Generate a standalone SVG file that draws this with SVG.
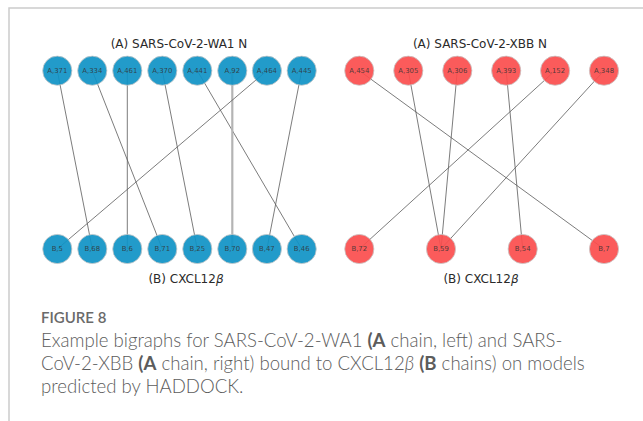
<svg xmlns="http://www.w3.org/2000/svg" width="643" height="421" viewBox="0 0 643 421">
  <style>
    .frame { stroke: #cccccc; stroke-width: 1.5; fill: none; }
    .edge { stroke: #5a5a5a; stroke-width: 0.8; fill: none; }
    .edge-wide { stroke: #b4b4b4; stroke-width: 2.2; fill: none; }
    .node circle { stroke: #c8c8c8; stroke-width: 0.8; fill-opacity: 0.92; }
    .wa1 circle { fill: #0f93c6; }
    .xbb circle { fill: #fb4d4d; }
    .node text { font-family: "DejaVu Sans", sans-serif; font-size: 6.9px; fill: #333333; fill-opacity: 0.85; text-anchor: middle; dominant-baseline: central; }
    .title { font-family: "DejaVu Sans", sans-serif; font-size: 12px; fill: #2a2a2a; text-anchor: middle; }
    .caption { font-family: Lato, "Open Sans", sans-serif; font-size: 18.6px; font-weight: 300; fill: #5c5c5c; }
    .fig { font-family: Lato, "Open Sans", sans-serif; font-size: 15px; font-weight: 600; fill: #6a6a6a; }
  </style>

  <rect width="643" height="421" fill="#ffffff"/>
  <path class="frame" d="M9,421 V8 H643"/>

  <!-- panel titles -->
  <text class="title" x="179" y="48">(A) SARS-CoV-2-WA1 N</text>
  <text class="title" x="186" y="283">(B) CXCL12<tspan font-style="italic">β</tspan></text>
  <text class="title" x="480" y="48">(A) SARS-CoV-2-XBB N</text>
  <text class="title" x="481" y="283">(B) CXCL12<tspan font-style="italic">β</tspan></text>

  <!-- connectors -->
  <g id="edges">
    <line class="edge" x1="57.3" y1="70.7" x2="92.3" y2="249"/>
    <line class="edge" x1="92.3" y1="70.7" x2="162.3" y2="249"/>
    <line class="edge" x1="127.3" y1="70.7" x2="127.3" y2="249"/>
    <line class="edge" x1="162.3" y1="70.7" x2="197.3" y2="249"/>
    <line class="edge" x1="197.3" y1="70.7" x2="301.7" y2="249"/>
    <line class="edge-wide" x1="232.3" y1="70.7" x2="232.3" y2="249"/>
    <line class="edge" x1="266.9" y1="70.7" x2="57.3" y2="249"/>
    <line class="edge" x1="301.7" y1="70.7" x2="266.9" y2="249"/>

    <line class="edge" x1="359.3" y1="70.7" x2="604" y2="249"/>
    <line class="edge" x1="408.3" y1="70.7" x2="441" y2="249"/>
    <line class="edge" x1="457.3" y1="70.7" x2="441" y2="249"/>
    <line class="edge" x1="506.2" y1="70.7" x2="522.7" y2="249"/>
    <line class="edge" x1="555.1" y1="70.7" x2="359.3" y2="249"/>
    <line class="edge" x1="604" y1="70.7" x2="441" y2="249"/>
  </g>

  <!-- SARS-CoV-2-WA1 chain A -->
  <g id="wa1-a371" class="node wa1"><circle cx="57.3" cy="70.7" r="14.6"/><text x="57.3" y="70.7">A,371</text></g>
  <g id="wa1-a334" class="node wa1"><circle cx="92.3" cy="70.7" r="14.6"/><text x="92.3" y="70.7">A,334</text></g>
  <g id="wa1-a461" class="node wa1"><circle cx="127.3" cy="70.7" r="14.6"/><text x="127.3" y="70.7">A,461</text></g>
  <g id="wa1-a370" class="node wa1"><circle cx="162.3" cy="70.7" r="14.6"/><text x="162.3" y="70.7">A,370</text></g>
  <g id="wa1-a441" class="node wa1"><circle cx="197.3" cy="70.7" r="14.6"/><text x="197.3" y="70.7">A,441</text></g>
  <g id="wa1-a92" class="node wa1"><circle cx="232.3" cy="70.7" r="14.6"/><text x="232.3" y="70.7">A,92</text></g>
  <g id="wa1-a464" class="node wa1"><circle cx="266.9" cy="70.7" r="14.6"/><text x="266.9" y="70.7">A,464</text></g>
  <g id="wa1-a445" class="node wa1"><circle cx="301.7" cy="70.7" r="14.6"/><text x="301.7" y="70.7">A,445</text></g>

  <!-- CXCL12β chain B (left) -->
  <g id="wa1-b5" class="node wa1"><circle cx="57.3" cy="249" r="14.6"/><text x="57.3" y="249">B,5</text></g>
  <g id="wa1-b68" class="node wa1"><circle cx="92.3" cy="249" r="14.6"/><text x="92.3" y="249">B,68</text></g>
  <g id="wa1-b6" class="node wa1"><circle cx="127.3" cy="249" r="14.6"/><text x="127.3" y="249">B,6</text></g>
  <g id="wa1-b71" class="node wa1"><circle cx="162.3" cy="249" r="14.6"/><text x="162.3" y="249">B,71</text></g>
  <g id="wa1-b25" class="node wa1"><circle cx="197.3" cy="249" r="14.6"/><text x="197.3" y="249">B,25</text></g>
  <g id="wa1-b70" class="node wa1"><circle cx="232.3" cy="249" r="14.6"/><text x="232.3" y="249">B,70</text></g>
  <g id="wa1-b47" class="node wa1"><circle cx="266.9" cy="249" r="14.6"/><text x="266.9" y="249">B,47</text></g>
  <g id="wa1-b46" class="node wa1"><circle cx="301.7" cy="249" r="14.6"/><text x="301.7" y="249">B,46</text></g>

  <!-- SARS-CoV-2-XBB chain A -->
  <g id="xbb-a454" class="node xbb"><circle cx="359.3" cy="70.7" r="14.6"/><text x="359.3" y="70.7">A,454</text></g>
  <g id="xbb-a305" class="node xbb"><circle cx="408.3" cy="70.7" r="14.6"/><text x="408.3" y="70.7">A,305</text></g>
  <g id="xbb-a306" class="node xbb"><circle cx="457.3" cy="70.7" r="14.6"/><text x="457.3" y="70.7">A,306</text></g>
  <g id="xbb-a393" class="node xbb"><circle cx="506.2" cy="70.7" r="14.6"/><text x="506.2" y="70.7">A,393</text></g>
  <g id="xbb-a152" class="node xbb"><circle cx="555.1" cy="70.7" r="14.6"/><text x="555.1" y="70.7">A,152</text></g>
  <g id="xbb-a348" class="node xbb"><circle cx="604" cy="70.7" r="14.6"/><text x="604" y="70.7">A,348</text></g>

  <!-- CXCL12β chain B (right) -->
  <g id="xbb-b72" class="node xbb"><circle cx="359.3" cy="249" r="14.6"/><text x="359.3" y="249">B,72</text></g>
  <g id="xbb-b59" class="node xbb"><circle cx="441" cy="249" r="14.6"/><text x="441" y="249">B,59</text></g>
  <g id="xbb-b54" class="node xbb"><circle cx="522.7" cy="249" r="14.6"/><text x="522.7" y="249">B,54</text></g>
  <g id="xbb-b7" class="node xbb"><circle cx="604" cy="249" r="14.6"/><text x="604" y="249">B,7</text></g>

  <!-- caption -->
  <text class="fig" x="41" y="323">FIGURE 8</text>
  <text class="caption" x="41" y="347">Example bigraphs for SARS-CoV-2-WA1 <tspan font-weight="700">(A</tspan> chain, left) and SARS-</text>
  <text class="caption" x="41" y="370">CoV-2-XBB <tspan font-weight="700">(A</tspan> chain, right) bound to CXCL12<tspan font-style="italic">β</tspan> <tspan font-weight="700">(B</tspan> chains) on models</text>
  <text class="caption" x="41" y="393">predicted by HADDOCK.</text>
</svg>
